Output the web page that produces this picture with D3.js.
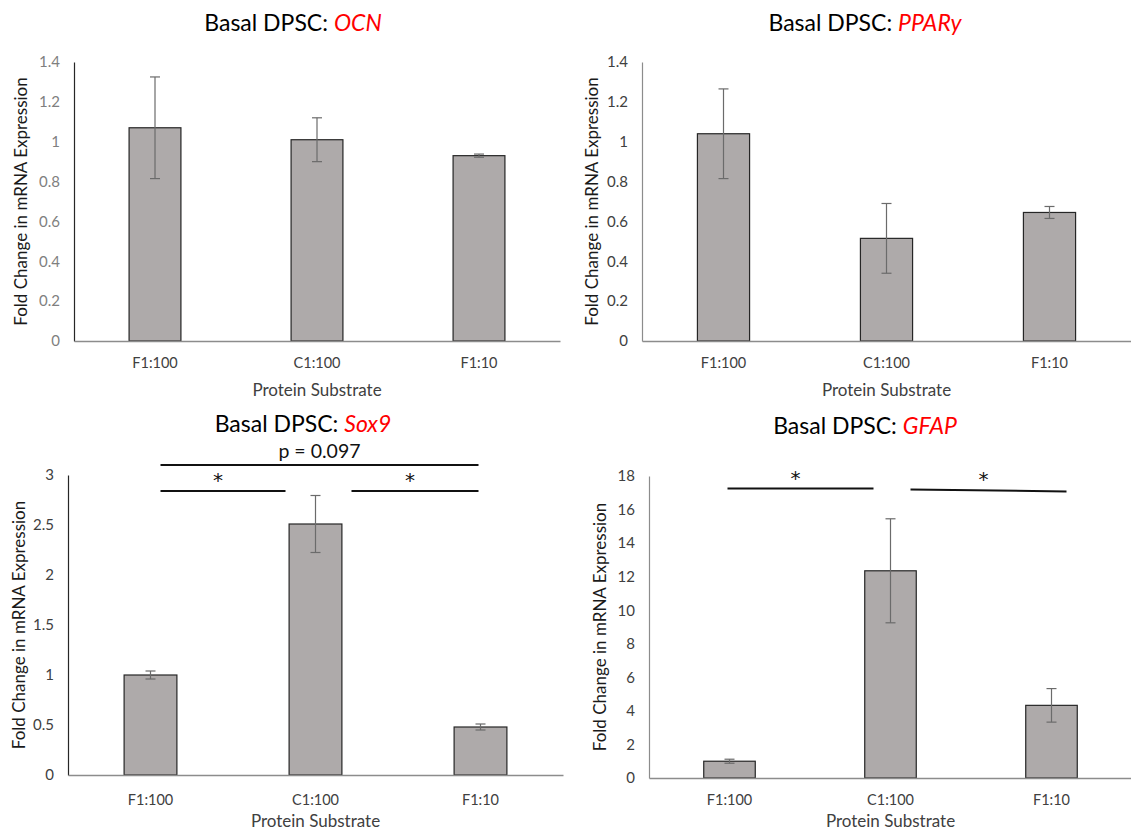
<!DOCTYPE html>
<html>
<head>
<meta charset="utf-8">
<script src="https://cdn.jsdelivr.net/npm/d3@7"></script>
<style>
  body { margin: 0; background: #fff; }
  text { font-family: Lato, "Open Sans", sans-serif; }
</style>
</head>
<body>
<div id="chart"></div>
<script>
// categories on the x axis (same for all four panels)
var categories = ["F1:100", "C1:100", "F1:10"];

// fold change values and error bar half-widths
var ocnMean  = [1.07, 1.01, 0.93];
var ocnErr   = [0.255, 0.11, 0.008];
var pparMean = [1.04, 0.515, 0.645];
var pparErr  = [0.225, 0.175, 0.03];
var sox9Mean = [1.0, 2.51, 0.48];
var sox9Err  = [0.04, 0.285, 0.03];
var gfapMean = [1.0, 12.35, 4.33];
var gfapErr  = [0.12, 3.1, 1.0];

// tick labels of the y axes
var ocnTicks  = [0, 0.2, 0.4, 0.6, 0.8, 1, 1.2, 1.4];
var pparTicks = [0, 0.2, 0.4, 0.6, 0.8, 1, 1.2, 1.4];
var sox9Ticks = [0, 0.5, 1, 1.5, 2, 2.5, 3];
var gfapTicks = [0, 2, 4, 6, 8, 10, 12, 14, 16, 18];

// significance brackets (pair of categories, height in data units, label)
var sox9Brackets = [
  {from: "F1:100", to: "F1:10",  y: 3.10, label: "p = 0.097"},
  {from: "F1:100", to: "C1:100", y: 2.84, label: "*"},
  {from: "C1:100", to: "F1:10",  y: 2.84, label: "*"}
];
var gfapBrackets = [
  {from: "F1:100", to: "C1:100", y: 17.25, y2: 17.25, label: "*"},
  {from: "C1:100", to: "F1:10",  y: 17.2,  y2: 17.08, label: "*"}
];

var W = 1131, H = 832;
var svg = d3.select("#chart").append("svg")
    .attr("width", W)
    .attr("height", H);

// layout of each panel (pixels)
var panels = [
  {gene: "OCN", mean: ocnMean, err: ocnErr, ticks: ocnTicks, yMax: 1.4,
   left: 74, right: 560, top: 62, bottom: 341,
   titleX: 293, titleY: 31, yTitleX: 21, catY: 368, xTitleY: 396,
   tickColor: "#7f7f7f", yAxisColor: "#262626", brackets: [], insets: []},
  {gene: "PPARy", mean: pparMean, err: pparErr, ticks: pparTicks, yMax: 1.4,
   left: 642, right: 1131, top: 62, bottom: 341,
   titleX: 865, titleY: 31, yTitleX: 592, catY: 368, xTitleY: 396,
   tickColor: "#404040", yAxisColor: "#8c8c8c", brackets: [], insets: []},
  {gene: "Sox9", mean: sox9Mean, err: sox9Err, ticks: sox9Ticks, yMax: 3,
   left: 68, right: 563, top: 475, bottom: 775,
   titleX: 303, titleY: 432, yTitleX: 19, catY: 805, xTitleY: 827,
   tickColor: "#404040", yAxisColor: "#262626", brackets: sox9Brackets,
   insets: [[10, -2], [10, -30], [36, -2]]},
  {gene: "GFAP", mean: gfapMean, err: gfapErr, ticks: gfapTicks, yMax: 18,
   left: 649, right: 1132, top: 476, bottom: 778,
   titleX: 865, titleY: 434, yTitleX: 600, catY: 805, xTitleY: 827,
   tickColor: "#404040", yAxisColor: "#8c8c8c", brackets: gfapBrackets,
   insets: [[-2, -17], [20, 15]]}
];

panels.forEach(function(p) {
  var g = svg.append("g");

  var x = d3.scaleBand()
    .domain(categories)
    .range([p.left, p.right])
    .paddingInner(0.68)
    .paddingOuter(0.34);

  var y = d3.scaleLinear()
    .domain([0, p.yMax])
    .range([p.bottom, p.top]);

  // title
  var title = g.append("text")
    .attr("x", p.titleX)
    .attr("y", p.titleY)
    .attr("text-anchor", "middle")
    .style("font-size", "23px")
    .style("fill", "#000");
  title.append("tspan").text("Basal DPSC: ");
  title.append("tspan").text(p.gene)
    .style("fill", "#ff0000")
    .style("font-style", "italic");

  // y axis
  var yAxis = g.append("g")
    .attr("transform", "translate(" + p.left + ",0)")
    .call(d3.axisLeft(y)
      .tickValues(p.ticks)
      .tickFormat(d3.format("~g"))
      .tickSize(0)
      .tickSizeOuter(0)
      .tickPadding(14));
  yAxis.select(".domain").attr("stroke", p.yAxisColor).attr("stroke-width", 1.2);
  yAxis.selectAll("text")
    .style("font-size", "15px")
    .style("font-family", "Lato, 'Open Sans', sans-serif")
    .style("fill", p.tickColor);

  g.append("text")
    .attr("transform", "translate(" + p.yTitleX + "," + ((p.top + p.bottom) / 2) + ") rotate(-90)")
    .attr("text-anchor", "middle")
    .attr("dy", "0.35em")
    .style("font-size", "17px")
    .style("fill", "#1a1a1a")
    .text("Fold Change in mRNA Expression");

  // bars
  g.selectAll("rect.bar")
    .data(categories)
    .enter()
    .append("rect")
    .attr("class", "bar")
    .attr("x", d => x(d))
    .attr("width", x.bandwidth())
    .attr("y", (d, i) => y(p.mean[i]))
    .attr("height", (d, i) => y(0) - y(p.mean[i]))
    .style("fill", "#aeaaaa")
    .style("stroke", "#262626")
    .style("stroke-width", 1.2);

  // error bars
  var eb = g.selectAll("g.err")
    .data(categories)
    .enter()
    .append("g")
    .attr("class", "err")
    .style("stroke", "#6b6b6b")
    .style("stroke-width", 1.2);
  var cx = d => x(d) + x.bandwidth() / 2;
  eb.append("line")
    .attr("x1", cx).attr("x2", cx)
    .attr("y1", (d, i) => y(p.mean[i] + p.err[i]))
    .attr("y2", (d, i) => y(p.mean[i] - p.err[i]));
  [1, -1].forEach(function(s) {
    eb.append("line")
      .attr("x1", d => cx(d) - 5).attr("x2", d => cx(d) + 5)
      .attr("y1", (d, i) => y(p.mean[i] + s * p.err[i]))
      .attr("y2", (d, i) => y(p.mean[i] + s * p.err[i]));
  });

  // x axis
  var xAxis = g.append("g")
    .attr("transform", "translate(0," + p.bottom + ")")
    .call(d3.axisBottom(x).tickSize(0).tickSizeOuter(0).tickPadding(0));
  xAxis.select(".domain").attr("stroke", "#8c8c8c").attr("stroke-width", 1.6);
  xAxis.selectAll("text")
    .attr("y", p.catY - p.bottom)
    .attr("dy", 0)
    .style("font-size", "14.5px")
    .style("font-family", "Lato, 'Open Sans', sans-serif")
    .style("fill", "#404040");

  g.append("text")
    .attr("x", (p.left + p.right) / 2)
    .attr("y", p.xTitleY)
    .attr("text-anchor", "middle")
    .style("font-size", "17px")
    .style("fill", "#404040")
    .text("Protein Substrate");

  // significance brackets
  p.brackets.forEach(function(b, i) {
    var x1 = cx(b.from) + p.insets[i][0],
        x2 = cx(b.to) + p.insets[i][1],
        y1 = y(b.y),
        y2 = y(b.y2 === undefined ? b.y : b.y2);
    g.append("line")
      .attr("x1", x1).attr("x2", x2)
      .attr("y1", y1).attr("y2", y2)
      .style("stroke", "#111")
      .style("stroke-width", 2);
    var isStar = b.label === "*";
    g.append("text")
      .attr("x", (x1 + x2) / 2 - (isStar ? 5 : 0))
      .attr("y", (y1 + y2) / 2 - (isStar ? 4 : 7))
      .attr("text-anchor", "middle")
      .style("font-family", isStar ? "'DejaVu Sans', sans-serif" : null)
      .style("font-size", isStar ? "20px" : "19.5px")
      .style("fill", "#111")
      .text(b.label);
  });
});
</script>
</body>
</html>
